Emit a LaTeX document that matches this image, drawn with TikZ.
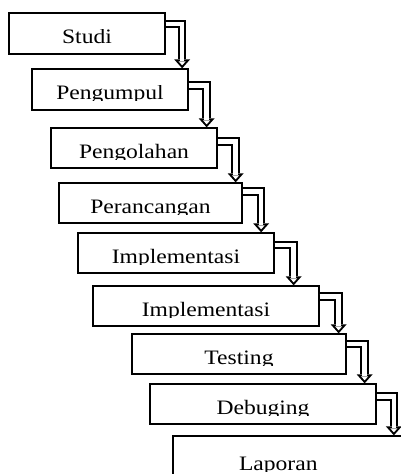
\documentclass[tikz,border=0pt]{standalone}
\usepackage{fontspec}
\usepackage{adjustbox}
\setmainfont{Liberation Serif}
\newfontfamily\boxfont[FakeStretch=1.15]{Liberation Serif}
\usetikzlibrary{arrows.meta}

% text cut flat just under the baseline
\newcommand{\cuttext}[1]{\clipbox{0pt {\depth-1pt} 0pt 0pt}{#1}}

\tikzset{
	stepbox/.style={draw, rectangle, line width=1.3pt, minimum height=40pt,
		text height=20pt, text depth=0pt, font=\boxfont\fontsize{20.5}{24}\selectfont},
	flow/.style={line width=8.5pt, -{Triangle[width=16pt, length=9pt, line width=0pt]},
		postaction={draw, white, line width=4.5pt, shorten >=3pt,
			-{Triangle[width=7.1pt, length=4pt, line width=0pt]}}}
}

\begin{document}
\begin{tikzpicture}[x=1pt, y=-1pt]
		\clip (0,0) rectangle (401,474);

		\draw
		node[stepbox, minimum width=156pt, minimum height=41pt] at (87,33.5) (stu) {\cuttext{Studi}}
		node[stepbox, minimum width=156pt, minimum height=41pt] at (110,89.5) (kum) {\cuttext{Pengumpul}}
		node[stepbox, minimum width=166pt] at (134,148) (olah) {\cuttext{Pengolahan}}
		node[stepbox, minimum width=183pt] at (150.5,203) (ranc) {\cuttext{Perancangan}}
		node[stepbox, minimum width=196pt] at (176,253) (impa) {\cuttext{Implementasi}}
		node[stepbox, minimum width=226pt] at (206,306) (impb) {\cuttext{Implementasi}}
		node[stepbox, minimum width=214pt] at (239,354) (test) {\cuttext{Testing}}
		node[stepbox, minimum width=226pt] at (263,404) (deb) {\cuttext{Debuging}}
		node[stepbox, minimum width=250pt, minimum height=44pt, text height=24pt,
			inner xsep=66pt, text width=118pt, align=left] at (298,458) (lap) {\cuttext{Laporan}};

		\draw[flow] ([yshift=-11.5pt]stu.north east) -| ([xshift=-6.5pt]kum.north east);
		\draw[flow] ([yshift=-17pt]kum.north east) -| ([xshift=-11pt]olah.north east);
		\draw[flow] ([yshift=-14pt]olah.north east) -| ([xshift=-7pt]ranc.north east);
		\draw[flow] ([yshift=-9pt]ranc.north east) -| ([xshift=-13.5pt]impa.north east);
		\draw[flow] ([yshift=-12.5pt]impa.north east) -| ([xshift=-26pt]impb.north east);
		\draw[flow] ([yshift=-11pt]impb.north east) -| ([xshift=-8pt]test.north east);
		\draw[flow] ([yshift=-10.5pt]test.north east) -| ([xshift=-12pt]deb.north east);
		\draw[flow] ([yshift=-13pt]deb.north east) -| ([xshift=221.5pt]lap.north west);
\end{tikzpicture}
\end{document}
